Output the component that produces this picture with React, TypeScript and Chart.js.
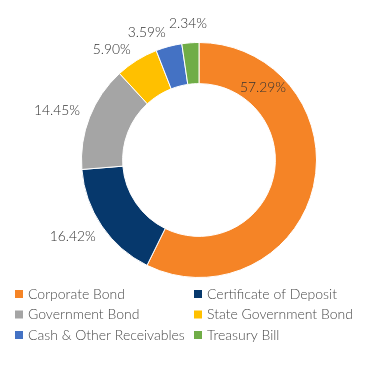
import React, { useEffect, useRef } from "react";
import { Chart, registerables } from "chart.js";

Chart.register(...registerables);

const categories = [
  "Corporate Bond",
  "Certificate of Deposit",
  "Government Bond",
  "State Government Bond",
  "Cash & Other Receivables",
  "Treasury Bill",
];
const values = [57.29, 16.42, 14.45, 5.9, 3.59, 2.34];
const valueLabels = ["57.29%", "16.42%", "14.45%", "5.90%", "3.59%", "2.34%"];
const colors = ["#F58426", "#06386C", "#A5A5A5", "#FFC000", "#4472C4", "#70AD47"];

const FONT = "Lato, 'Open Sans', sans-serif";

type Box = { x: number; y: number; w: number; h: number };
const overlaps = (a: Box, b: Box, gap: number) =>
  Math.abs(a.x - b.x) < (a.w + b.w) / 2 + gap && Math.abs(a.y - b.y) < (a.h + b.h) / 2 + gap;

const labelPlugin = {
  id: "sliceLabels",
  afterDatasetsDraw(chart: any) {
    const ctx = chart.ctx;
    const meta = chart.getDatasetMeta(0);
    ctx.save();
    ctx.font = `300 13.8px ${FONT}`;
    ctx.fillStyle = "#333333";
    ctx.textAlign = "center";
    ctx.textBaseline = "middle";
    const placed: Box[] = [];
    for (let i = meta.data.length - 1; i >= 0; i--) {
      const arc = meta.data[i];
      const { x, y, startAngle, endAngle, innerRadius, outerRadius } = arc.getProps(
        ["x", "y", "startAngle", "endAngle", "innerRadius", "outerRadius"],
        true
      );
      const text = valueLabels[i];
      const span = endAngle - startAngle;
      if (span > Math.PI) {
        const a = startAngle + span * 0.2;
        const r = (innerRadius + outerRadius) / 2;
        ctx.fillText(text, x + Math.cos(a) * r, y + Math.sin(a) * r);
        continue;
      }
      const w = ctx.measureText(text).width;
      const h = 14;
      let a = (startAngle + endAngle) / 2;
      const r = outerRadius + 12;
      const pos = (ang: number): Box => ({
        x: x + Math.cos(ang) * r + (Math.cos(ang) * w) / 2,
        y: y + Math.sin(ang) * r + (Math.sin(ang) * h) / 2,
        w,
        h,
      });
      let b = pos(a);
      let guard = 0;
      while (placed.some((p) => overlaps(b, p, 3)) && guard < 200) {
        a -= 0.01;
        b = pos(a);
        guard++;
      }
      placed.push(b);
      ctx.fillText(text, b.x, b.y);
    }
    ctx.restore();
  },
};

const legendPlugin = {
  id: "gridLegend",
  afterDraw(chart: any) {
    const ctx = chart.ctx;
    ctx.save();
    ctx.font = `300 14px ${FONT}`;
    ctx.textBaseline = "middle";
    ctx.textAlign = "left";
    categories.forEach((c, i) => {
      const col = i % 2;
      const row = Math.floor(i / 2);
      const bx = col === 0 ? 15 : 194;
      const by = 290 + row * 20.5;
      ctx.fillStyle = colors[i];
      ctx.fillRect(bx, by, 8, 8);
      ctx.fillStyle = "#4a4a4a";
      ctx.fillText(c, bx + 13, by + 4);
    });
    ctx.restore();
  },
};

export default function App() {
  const ref = useRef<HTMLCanvasElement>(null);
  useEffect(() => {
    document.body.style.margin = "0";
    const chart = new Chart(ref.current!, {
      type: "doughnut",
      data: {
        labels: categories,
        datasets: [
          {
            data: values,
            backgroundColor: colors,
            borderColor: "#ffffff",
            borderWidth: 1,
          },
        ],
      },
      options: {
        responsive: false,
        animation: false,
        cutout: "65%",
        layout: { padding: { left: 81, right: 52, top: 42, bottom: 112 } },
        plugins: {
          legend: { display: false },
          tooltip: { enabled: false },
        },
      },
      plugins: [labelPlugin, legendPlugin],
    });
    return () => chart.destroy();
  }, []);
  return (
    <div style={{ width: 369, height: 390, background: "#fff" }}>
      <canvas ref={ref} width={369} height={390} style={{ display: "block" }} />
    </div>
  );
}
